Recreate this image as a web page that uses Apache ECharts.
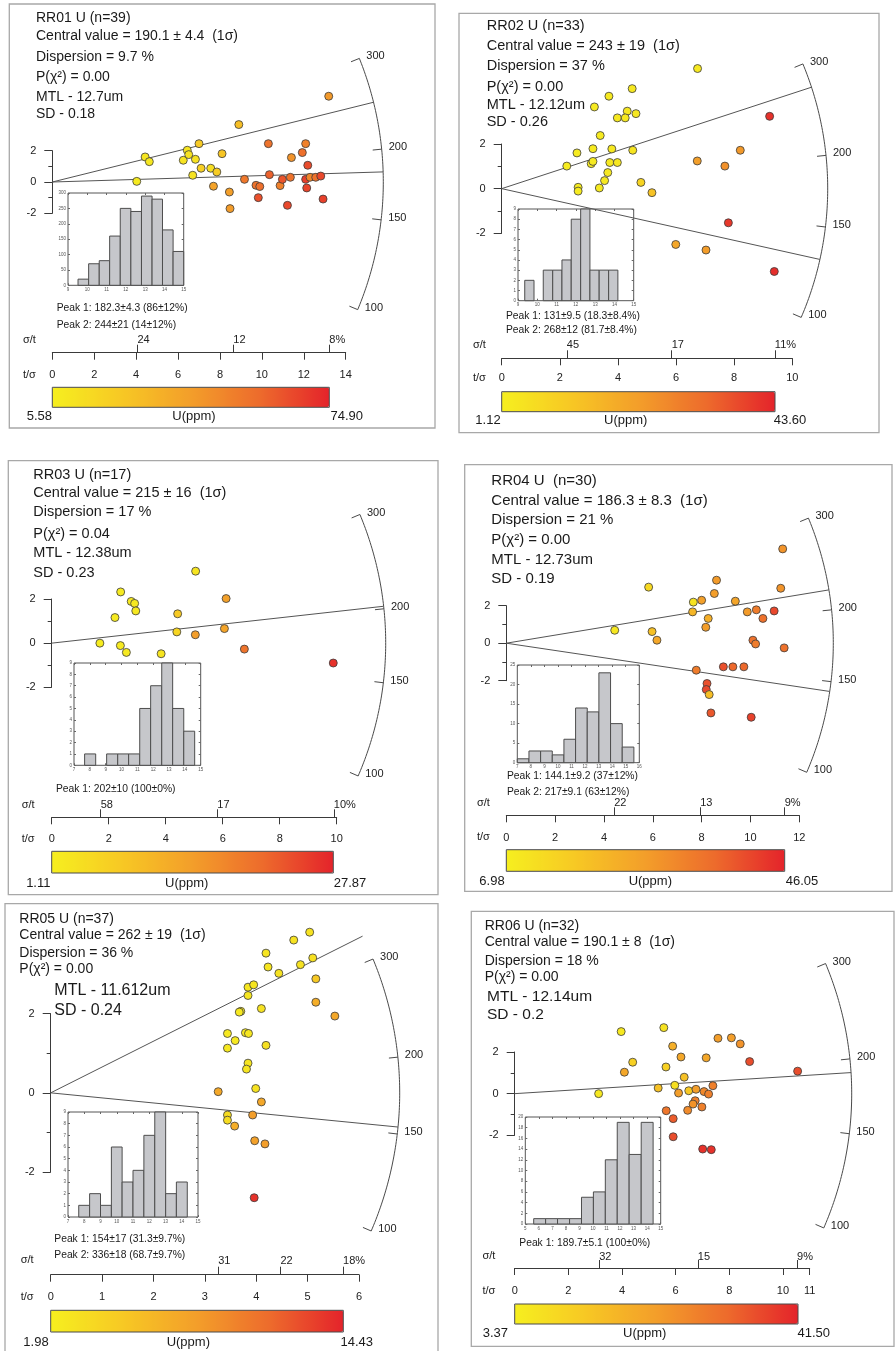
<!DOCTYPE html>
<html>
<head>
<meta charset="utf-8">
<script src="https://cdn.jsdelivr.net/npm/echarts@6/dist/echarts.min.js"></script>
<style>
  html, body { margin: 0; padding: 0; background: #fff; }
  #chart { width: 895px; height: 1351px; }
</style>
</head>
<body>
<div id="chart"></div>
<script>
const FONT = '"Liberation Sans", Arial, Helvetica, sans-serif';
const TREF = 175;                       // age (Ma) along the horizontal through the origin
const ARC_TICKS = [100, 150, 200, 300]; // age scale on the arc
const U_COLORS = ['#f6ef1f', '#f7c824', '#f39e2a', '#ed6b2c', '#e4232b'];

// ---------------- RR01 ----------------
// grains: [t/σ (precision), standardised estimate, U ppm]
const rr01Grains = [
  [4.03, 0.04, 8.0], [4.43, 1.60, 9.5], [4.63, 1.30, 9.0], [6.25, 1.39, 11.0], [6.44, 2.03, 10.5],
  [6.51, 1.75, 11.5], [7.00, 2.45, 22.0], [6.83, 1.45, 12.0], [6.70, 0.43, 11.0], [7.10, 0.88, 20.0],
  [7.56, 0.88, 13.0], [7.85, 0.64, 21.0], [8.10, 1.81, 24.0], [8.90, 3.67, 27.0], [7.69, -0.27, 38.0],
  [8.45, -0.64, 40.0], [8.48, -1.70, 41.0], [9.17, 0.17, 53.0], [9.72, -0.21, 55.0], [9.90, -0.29, 56.0],
  [9.83, -1.00, 64.0], [10.31, 2.45, 55.0], [10.36, 0.47, 60.0], [10.87, -0.23, 50.0], [10.98, 0.17, 63.0],
  [11.22, -1.49, 66.0], [11.36, 0.30, 55.0], [11.41, 1.56, 44.0], [11.93, 1.88, 56.0], [12.09, 2.45, 50.0],
  [12.19, 1.07, 65.0], [12.09, 0.17, 68.0], [12.14, -0.38, 67.0], [12.30, 0.30, 48.0], [12.57, 0.30, 55.0],
  [12.81, 0.38, 66.0], [12.92, -1.09, 68.0], [13.19, 5.48, 42.0]
];
const rr01Peaks = [182.3, 244];
const rr01TTicks = [0, 2, 4, 6, 8, 10, 12, 14];
const rr01ErrPos = [4.06, 8.64, 13.22];
const rr01ErrLabels = ['24', '12', '8%'];
const rr01Stats = ['RR01 U (n=39)', 'Central value = 190.1 ± 4.4  (1σ)', 'Dispersion = 9.7 %', 'P(χ²) = 0.00', 'MTL - 12.7um', 'SD - 0.18'];
const rr01PeakText = ['Peak 1: 182.3±4.3 (86±12%)', 'Peak 2: 244±21 (14±12%)'];
const rr01URange = [5.58, 74.90];
const rr01LenEdges = [9.52, 10.07, 10.62, 11.16, 11.71, 12.26, 12.81, 13.36, 13.90, 14.45, 15.0];
const rr01LenCounts = [20, 70, 80, 160, 250, 240, 290, 280, 180, 110];
const rr01LenX = [9, 15, 1];
const rr01LenY = [0, 300, 50];

// ---------------- RR02 ----------------
const rr02Grains = [
  [6.74, 5.38, 3.0], [4.49, 4.48, 3.0], [3.69, 4.14, 2.8], [3.19, 3.66, 2.5], [4.32, 3.47, 3.2],
  [3.98, 3.17, 3.0], [4.25, 3.17, 3.0], [4.62, 3.36, 3.4], [3.39, 2.38, 2.6], [2.59, 1.60, 2.2],
  [3.14, 1.79, 2.6], [3.79, 1.78, 3.0], [4.51, 1.72, 4.0], [2.24, 1.01, 2.0], [3.08, 1.12, 2.5],
  [3.14, 1.22, 2.5], [3.72, 1.17, 3.0], [3.98, 1.17, 3.2], [3.65, 0.72, 3.0], [3.54, 0.36, 3.0],
  [2.63, 0.06, 2.2], [2.63, -0.11, 2.2], [3.36, 0.03, 2.6], [4.79, 0.28, 8.5], [5.17, -0.18, 13.0],
  [6.73, 1.24, 22.0], [7.68, 1.01, 25.0], [8.21, 1.72, 23.5], [9.22, 3.24, 41.5], [7.80, -1.53, 40.5],
  [5.99, -2.50, 20.0], [7.03, -2.75, 22.5], [9.38, -3.71, 42.0]
];
const rr02Peaks = [131, 268];
const rr02TTicks = [0, 2, 4, 6, 8, 10];
const rr02ErrPos = [2.24, 5.85, 9.40];
const rr02ErrLabels = ['45', '17', '11%'];
const rr02Stats = ['RR02 U (n=33)', 'Central value = 243 ± 19  (1σ)', 'Dispersion = 37 %', 'P(χ²) = 0.00', 'MTL - 12.12um', 'SD - 0.26'];
const rr02PeakText = ['Peak 1: 131±9.5 (18.3±8.4%)', 'Peak 2: 268±12 (81.7±8.4%)'];
const rr02URange = [1.12, 43.60];
const rr02LenEdges = [9.35, 9.83, 10.31, 10.80, 11.28, 11.76, 12.25, 12.73, 13.21, 13.70, 14.18];
const rr02LenCounts = [2, 0, 3, 3, 4, 8, 9, 3, 3, 3];
const rr02LenX = [9, 15, 1];
const rr02LenY = [0, 9, 1];

// ---------------- RR03 ----------------
const rr03Grains = [
  [5.05, 3.26, 3.0], [2.42, 2.32, 2.0], [2.79, 1.89, 2.2], [2.91, 1.80, 2.3], [2.95, 1.46, 2.3],
  [2.22, 1.16, 2.0], [4.42, 1.33, 7.5], [6.12, 2.02, 14.0], [4.39, 0.51, 5.5], [5.04, 0.38, 14.5],
  [6.06, 0.66, 13.5], [1.69, 0.00, 1.6], [2.41, -0.11, 2.0], [2.62, -0.42, 2.2], [3.84, -0.48, 3.0],
  [6.76, -0.27, 20.0], [9.88, -0.90, 26.5]
];
const rr03Peaks = [202];
const rr03TTicks = [0, 2, 4, 6, 8, 10];
const rr03ErrPos = [1.72, 5.81, 9.90];
const rr03ErrLabels = ['58', '17', '10%'];
const rr03Stats = ['RR03 U (n=17)', 'Central value = 215 ± 16  (1σ)', 'Dispersion = 17 %', 'P(χ²) = 0.04', 'MTL - 12.38um', 'SD - 0.23'];
const rr03PeakText = ['Peak 1: 202±10 (100±0%)'];
const rr03URange = [1.11, 27.87];
const rr03LenEdges = [7.67, 8.37, 9.06, 9.76, 10.45, 11.15, 11.84, 12.54, 13.23, 13.93, 14.62];
const rr03LenCounts = [1, 0, 1, 1, 1, 5, 7, 9, 5, 3];
const rr03LenX = [7, 15, 1];
const rr03LenY = [0, 9, 1];

// ---------------- RR04 ----------------
const rr04Grains = [
  [4.44, 0.69, 9.0], [5.83, 2.99, 12.5], [5.97, 0.62, 18.5], [6.17, 0.16, 24.5], [7.66, 2.19, 10.0],
  [7.63, 1.67, 21.0], [8.00, 2.29, 26.0], [8.27, 1.32, 22.5], [8.17, 0.85, 26.5], [8.52, 2.65, 26.5],
  [8.61, 3.36, 27.0], [9.38, 2.24, 25.0], [9.87, 1.67, 27.0], [10.24, 1.78, 33.0], [10.51, 1.32, 35.0],
  [10.97, 1.72, 41.0], [11.24, 2.93, 28.5], [11.32, 5.03, 28.5], [10.10, 0.16, 35.0], [10.21, -0.04, 33.0],
  [11.38, -0.25, 35.0], [7.78, -1.44, 33.0], [8.89, -1.26, 40.0], [9.28, -1.26, 36.5], [9.73, -1.26, 36.5],
  [8.22, -2.15, 40.0], [8.19, -2.47, 41.0], [8.31, -2.74, 19.0], [8.38, -3.72, 39.0], [10.03, -3.95, 42.0]
];
const rr04Peaks = [144.1, 217];
const rr04TTicks = [0, 2, 4, 6, 8, 10, 12];
const rr04ErrPos = [4.42, 7.94, 11.40];
const rr04ErrLabels = ['22', '13', '9%'];
const rr04Stats = ['RR04 U  (n=30)', 'Central value = 186.3 ± 8.3  (1σ)', 'Dispersion = 21 %', 'P(χ²) = 0.00', 'MTL - 12.73um', 'SD - 0.19'];
const rr04PeakText = ['Peak 1: 144.1±9.2 (37±12%)', 'Peak 2: 217±9.1 (63±12%)'];
const rr04URange = [6.98, 46.05];
const rr04LenEdges = [7.0, 7.86, 8.72, 9.58, 10.44, 11.30, 12.16, 13.02, 13.88, 14.74, 15.6];
const rr04LenCounts = [1, 3, 3, 2, 6, 14, 13, 23, 10, 4];
const rr04LenX = [7, 16, 1];
const rr04LenY = [0, 25, 5];

// ---------------- RR05 ----------------
const rr05Grains = [
  [5.04, 4.06, 3.0], [4.73, 3.86, 3.0], [4.19, 3.53, 2.8], [5.10, 3.41, 3.2], [4.86, 3.24, 3.0],
  [4.23, 3.18, 2.8], [4.44, 3.02, 3.0], [5.16, 2.88, 5.0], [3.84, 2.67, 2.7], [3.95, 2.73, 2.8],
  [3.84, 2.46, 2.7], [5.16, 2.29, 7.0], [5.53, 1.94, 7.5], [3.70, 2.06, 2.5], [3.67, 2.04, 2.5],
  [4.10, 2.13, 3.0], [3.44, 1.50, 2.5], [3.79, 1.52, 2.7], [3.85, 1.50, 2.7], [3.59, 1.32, 2.5],
  [3.44, 1.13, 2.5], [4.19, 1.20, 3.2], [3.84, 0.75, 2.8], [3.81, 0.60, 2.8], [3.26, 0.03, 7.5],
  [3.99, 0.11, 3.0], [4.10, -0.23, 7.5], [3.93, -0.56, 8.2], [3.44, -0.56, 3.5], [3.44, -0.69, 3.5],
  [3.58, -0.84, 7.0], [3.97, -1.21, 8.0], [4.17, -1.29, 8.2], [3.96, -2.65, 13.8]
];
const rr05Peaks = [154, 336];
const rr05TTicks = [0, 1, 2, 3, 4, 5, 6];
const rr05ErrPos = [3.26, 4.47, 5.69];
const rr05ErrLabels = ['31', '22', '18%'];
const rr05Stats = ['RR05 U (n=37)', 'Central value = 262 ± 19  (1σ)', 'Dispersion = 36 %', 'P(χ²) = 0.00', 'MTL - 11.612um', 'SD - 0.24'];
const rr05PeakText = ['Peak 1: 154±17 (31.3±9.7%)', 'Peak 2: 336±18 (68.7±9.7%)'];
const rr05URange = [1.98, 14.43];
const rr05LenEdges = [7.66, 8.33, 9.00, 9.67, 10.33, 11.00, 11.67, 12.34, 13.01, 13.67, 14.34];
const rr05LenCounts = [1, 2, 1, 6, 3, 4, 7, 9, 2, 3];
const rr05LenX = [7, 15, 1];
const rr05LenY = [0, 9, 1];

// ---------------- RR06 ----------------
const rr06Grains = [
  [3.13, 0.00, 5.0], [3.97, 2.98, 5.0], [4.09, 1.03, 20.5], [4.40, 1.51, 11.0], [5.56, 3.17, 6.5],
  [5.89, 2.28, 18.5], [5.64, 1.28, 11.0], [6.20, 1.76, 20.5], [6.32, 0.79, 14.5], [5.35, 0.27, 14.5],
  [5.97, 0.40, 7.2], [6.11, 0.03, 22.5], [6.49, 0.14, 13.0], [6.76, 0.21, 22.5], [7.06, 0.10, 26.5],
  [7.23, -0.02, 28.0], [7.39, 0.38, 28.0], [7.14, 1.72, 20.5], [7.58, 2.66, 22.5], [8.08, 2.68, 22.5],
  [8.41, 2.39, 24.5], [8.76, 1.54, 36.0], [10.55, 1.08, 36.0], [6.73, -0.34, 28.0], [6.65, -0.50, 24.5],
  [6.98, -0.64, 28.0], [6.45, -0.80, 26.0], [5.65, -0.82, 30.0], [5.91, -1.20, 34.0], [5.91, -2.07, 36.0],
  [7.01, -2.66, 39.5], [7.33, -2.69, 39.5]
];
const rr06Peaks = [189.7];
const rr06TTicks = [0, 2, 4, 6, 8, 10, 11];
const rr06ErrPos = [3.15, 6.83, 10.53];
const rr06ErrLabels = ['32', '15', '9%'];
const rr06Stats = ['RR06 U (n=32)', 'Central value = 190.1 ± 8  (1σ)', 'Dispersion = 18 %', 'P(χ²) = 0.00', 'MTL - 12.14um', 'SD - 0.2'];
const rr06PeakText = ['Peak 1: 189.7±5.1 (100±0%)'];
const rr06URange = [3.37, 41.50];
const rr06LenEdges = [5.62, 6.50, 7.38, 8.27, 9.15, 10.03, 10.91, 11.79, 12.67, 13.56, 14.44];
const rr06LenCounts = [1, 1, 1, 1, 5, 6, 12, 19, 13, 19];
const rr06LenX = [5, 15, 1];
const rr06LenY = [0, 20, 2];

// ---------------- page layout of the six radial plots ----------------
const panels = [
  { grains: rr01Grains, peaks: rr01Peaks, tTicks: rr01TTicks, errPos: rr01ErrPos, errLabels: rr01ErrLabels,
    stats: rr01Stats, peakText: rr01PeakText, uRange: rr01URange, lenEdges: rr01LenEdges, lenCounts: rr01LenCounts,
    lenX: rr01LenX, lenY: rr01LenY,
    frame: [9.3, 4, 425.7, 424],
    statsPos: [[36, 18, 14], [36, 36, 14], [36, 57, 14], [36, 77, 14], [36, 97, 14], [36, 114, 14]],
    plot: { left: 52.3, top: 150.7, width: 293.4, height: 62.6, axisY: 352.7, tMargin: 16.5, eMargin: 7 },
    arcR: 331,
    hist: { left: 68, top: 193, width: 115.7, height: 92.3 },
    peakPos: [56.7, [308.3, 325]],
    nameX: 23, nameY: [340, 375],
    bar: { x: 52.3, y: 387.3, w: 277, h: 20 }, barLabelY: 416.7, barLabelX: [39.3, 194, 346.7] },
  { grains: rr02Grains, peaks: rr02Peaks, tTicks: rr02TTicks, errPos: rr02ErrPos, errLabels: rr02ErrLabels,
    stats: rr02Stats, peakText: rr02PeakText, uRange: rr02URange, lenEdges: rr02LenEdges, lenCounts: rr02LenCounts,
    lenX: rr02LenX, lenY: rr02LenY,
    frame: [459, 13.3, 420, 419.4],
    statsPos: [[486.7, 26, 14.5], [486.7, 45.7, 14.5], [486.7, 66, 14.5], [486.7, 87.3, 14.5], [486.7, 105, 14.5], [486.7, 121.7, 14.5]],
    plot: { left: 501.7, top: 144, width: 290.6, height: 89.3, axisY: 358.3, tMargin: 14, eMargin: 7.5 },
    arcR: 326,
    hist: { left: 518, top: 209, width: 115.7, height: 91.7 },
    peakPos: [506, [316, 330]],
    nameX: 473, nameY: [345, 378],
    bar: { x: 501.7, y: 391.7, w: 273.3, h: 20 }, barLabelY: 420.7, barLabelX: [488, 625.7, 790] },
  { grains: rr03Grains, peaks: rr03Peaks, tTicks: rr03TTicks, errPos: rr03ErrPos, errLabels: rr03ErrLabels,
    stats: rr03Stats, peakText: rr03PeakText, uRange: rr03URange, lenEdges: rr03LenEdges, lenCounts: rr03LenCounts,
    lenX: rr03LenX, lenY: rr03LenY,
    frame: [8.3, 460.7, 429.7, 434],
    statsPos: [[33.3, 474.7, 14.5], [33.3, 493, 14.5], [33.3, 512.3, 14.5], [33.3, 534, 14.5], [33.3, 553, 14.5], [33.3, 573, 14.5]],
    plot: { left: 51.7, top: 599, width: 285, height: 88.3, axisY: 817.3, tMargin: 16.5, eMargin: 7 },
    arcR: 334,
    hist: { left: 74, top: 663, width: 126.7, height: 102.3 },
    peakPos: [56, [788.7]],
    nameX: 21.7, nameY: [804.7, 839],
    bar: { x: 51.7, y: 851.3, w: 281.6, h: 21.7 }, barLabelY: 883.7, barLabelX: [38.3, 186.7, 350] },
  { grains: rr04Grains, peaks: rr04Peaks, tTicks: rr04TTicks, errPos: rr04ErrPos, errLabels: rr04ErrLabels,
    stats: rr04Stats, peakText: rr04PeakText, uRange: rr04URange, lenEdges: rr04LenEdges, lenCounts: rr04LenCounts,
    lenX: rr04LenX, lenY: rr04LenY,
    frame: [464.7, 464.7, 427.3, 426.6],
    statsPos: [[491.3, 480.7, 15], [491.3, 500.7, 15], [491.3, 519.7, 15], [491.3, 539.7, 15], [491.3, 559.7, 15], [491.3, 578.7, 15]],
    plot: { left: 506.3, top: 605.7, width: 293, height: 75, axisY: 815.3, tMargin: 17, eMargin: 7 },
    arcR: 327,
    hist: { left: 517.3, top: 665, width: 122, height: 97.7 },
    peakPos: [507, [776.3, 792]],
    nameX: 477, nameY: [803, 837.3],
    bar: { x: 506.3, y: 849.7, w: 278.4, h: 21.6 }, barLabelY: 881.3, barLabelX: [492, 650.3, 802] },
  { grains: rr05Grains, peaks: rr05Peaks, tTicks: rr05TTicks, errPos: rr05ErrPos, errLabels: rr05ErrLabels,
    stats: rr05Stats, peakText: rr05PeakText, uRange: rr05URange, lenEdges: rr05LenEdges, lenCounts: rr05LenCounts,
    lenX: rr05LenX, lenY: rr05LenY,
    frame: [5, 903.7, 433, 460],
    statsPos: [[19.3, 918.7, 14], [19.3, 934.7, 14], [19.3, 952.7, 14], [19.3, 969.3, 14], [54.3, 990.3, 16], [54.3, 1010.3, 16]],
    plot: { left: 50.7, top: 1013.7, width: 308.3, height: 158.3, axisY: 1274.7, tMargin: 17, eMargin: 8.5 },
    arcR: 349,
    hist: { left: 68, top: 1112, width: 130, height: 105 },
    peakPos: [54.3, [1238.7, 1254.7]],
    nameX: 20.7, nameY: [1260.3, 1297],
    bar: { x: 50.7, y: 1310.3, w: 292.6, h: 21.7 }, barLabelY: 1342, barLabelX: [36, 188.3, 356.7] },
  { grains: rr06Grains, peaks: rr06Peaks, tTicks: rr06TTicks, errPos: rr06ErrPos, errLabels: rr06ErrLabels,
    stats: rr06Stats, peakText: rr06PeakText, uRange: rr06URange, lenEdges: rr06LenEdges, lenCounts: rr06LenCounts,
    lenX: rr06LenX, lenY: rr06LenY,
    frame: [471.3, 911.3, 422.7, 435],
    statsPos: [[484.7, 926.3, 14], [484.7, 942, 14], [484.7, 960.7, 14], [484.7, 977.3, 14], [487, 996.3, 15.5], [487, 1014.7, 15.5]],
    plot: { left: 514.7, top: 1052, width: 295, height: 83.3, axisY: 1268, tMargin: 17.5, eMargin: 6 },
    arcR: 337,
    hist: { left: 525.3, top: 1117, width: 135.4, height: 107 },
    peakPos: [519.3, [1243]],
    nameX: 482.5, nameY: [1256.3, 1290.7],
    bar: { x: 514.7, y: 1304, w: 283.3, h: 20 }, barLabelY: 1333, barLabelX: [495.3, 644.7, 813.7] }
];

const option = {
  animation: false,
  backgroundColor: '#ffffff',
  textStyle: { fontFamily: FONT },
  grid: [], xAxis: [], yAxis: [], series: [], visualMap: [], graphic: []
};

function txt(text, x, y, size, align) {
  return { type: 'text', x: x, y: y, z: 100,
    style: { text: text, font: size + 'px ' + FONT, fill: '#1a1a1a', align: align || 'left', verticalAlign: 'middle' } };
}

// radial lines for the peak ages, plus the curved age scale
function radialRenderer(p) {
  return function (params, api) {
    const o = api.coord([0, 0]);
    const s = api.size([1, 1]);
    const k = s[1] / s[0];
    const R = p.arcR;
    const ang = t => Math.atan(k * Math.log(t / TREF));
    const at = (th, r) => [o[0] + r * Math.cos(th), o[1] - r * Math.sin(th)];
    const a0 = ang(ARC_TICKS[0]);
    const a1 = ang(ARC_TICKS[ARC_TICKS.length - 1]);
    const arc = [];
    for (let i = 0; i <= 90; i++) arc.push(at(a0 + (a1 - a0) * i / 90, R));
    const children = [{ type: 'polyline', shape: { points: arc }, style: { stroke: '#4a4a4a', lineWidth: 1, fill: null } }];
    ARC_TICKS.forEach(t => {
      const th = ang(t);
      const q1 = at(th, R - 9), q2 = at(th, R);
      children.push({ type: 'line', shape: { x1: q1[0], y1: q1[1], x2: q2[0], y2: q2[1] }, style: { stroke: '#4a4a4a', lineWidth: 1 } });
      children.push({ type: 'text', x: q2[0] + 7, y: q2[1] - 2,
        style: { text: String(t), font: '11px ' + FONT, fill: '#222', align: 'left', verticalAlign: 'middle' } });
    });
    p.peaks.forEach(t => {
      const e = at(ang(t), R);
      children.push({ type: 'line', shape: { x1: o[0], y1: o[1], x2: e[0], y2: e[1] }, style: { stroke: '#555', lineWidth: 1 } });
    });
    return { type: 'group', children: children };
  };
}

function histRenderer(params, api) {
  if (!api.value(2)) return null;
  const a = api.coord([api.value(0), api.value(2)]);
  const b = api.coord([api.value(1), 0]);
  return { type: 'rect', shape: { x: a[0], y: a[1], width: b[0] - a[0], height: b[1] - a[1] },
    style: { fill: '#c6c7cb', stroke: '#4d4d4d', lineWidth: 1 } };
}

panels.forEach(p => {
  const L = p.plot;
  // ---- radial plot grid ----
  const g = option.grid.length;
  option.grid.push({ left: L.left, top: L.top, width: L.width, height: L.height, show: false, outerBoundsMode: 'none', containLabel: false });
  const tMax = p.tTicks[p.tTicks.length - 1];
  const offset = L.axisY - (L.top + L.height);
  const xT = option.xAxis.length;
  option.xAxis.push({
    type: 'value', gridIndex: g, min: 0, max: tMax, position: 'bottom', offset: offset,
    axisLine: { show: true, onZero: false, lineStyle: { color: '#3a3a3a', width: 1 } },
    axisTick: { show: true, length: 7, inside: false, customValues: p.tTicks, lineStyle: { color: '#3a3a3a' } },
    axisLabel: { show: true, customValues: p.tTicks, margin: L.tMargin, fontSize: 11, color: '#222', fontFamily: FONT },
    splitLine: { show: false }
  });
  const errLookup = p.errPos.map((v, i) => [v, p.errLabels[i]]);
  option.xAxis.push({
    type: 'value', gridIndex: g, min: 0, max: tMax, position: 'bottom', offset: offset,
    axisLine: { show: false, onZero: false },
    axisTick: { show: true, inside: true, length: 8, customValues: p.errPos, lineStyle: { color: '#3a3a3a' } },
    axisLabel: { show: true, inside: true, customValues: p.errPos, margin: L.eMargin, align: 'left', fontSize: 11, color: '#222', fontFamily: FONT,
      formatter: v => { let best = errLookup[0]; errLookup.forEach(e => { if (Math.abs(e[0] - v) < Math.abs(best[0] - v)) best = e; }); return best[1]; } },
    splitLine: { show: false }
  });
  const yZ = option.yAxis.length;
  option.yAxis.push({
    type: 'value', gridIndex: g, min: -2, max: 2, interval: 2, position: 'left',
    axisLine: { show: true, onZero: false, lineStyle: { color: '#3a3a3a', width: 1 } },
    axisTick: { show: true, length: 8, lineStyle: { color: '#3a3a3a' } },
    minorTick: { show: true, splitNumber: 2, length: 4, lineStyle: { color: '#3a3a3a' } },
    axisLabel: { show: true, margin: 16, fontSize: 11, color: '#222', fontFamily: FONT },
    splitLine: { show: false }, minorSplitLine: { show: false }
  });

  // ---- track length histogram inset ----
  const H = p.hist;
  const hg = option.grid.length;
  option.grid.push({ left: H.left, top: H.top, width: H.width, height: H.height, show: true, backgroundColor: '#ffffff',
    borderColor: '#555', borderWidth: 1, outerBoundsMode: 'none', containLabel: false });
  const hx = option.xAxis.length;
  const smallLabel = { fontSize: 4.5, color: '#555', fontFamily: FONT, margin: 2 };
  option.xAxis.push({ type: 'value', gridIndex: hg, min: p.lenX[0], max: p.lenX[1], interval: p.lenX[2], position: 'bottom',
    axisLine: { show: false, onZero: false }, axisTick: { show: true, inside: true, length: 2, lineStyle: { color: '#666' } },
    axisLabel: smallLabel, splitLine: { show: false } });
  option.xAxis.push({ type: 'value', gridIndex: hg, min: p.lenX[0], max: p.lenX[1], interval: p.lenX[2], position: 'top',
    axisLine: { show: false, onZero: false }, axisTick: { show: true, inside: true, length: 2, lineStyle: { color: '#666' } },
    axisLabel: { show: false }, splitLine: { show: false } });
  const hy = option.yAxis.length;
  option.yAxis.push({ type: 'value', gridIndex: hg, min: p.lenY[0], max: p.lenY[1], interval: p.lenY[2], position: 'left',
    axisLine: { show: false, onZero: false }, axisTick: { show: true, inside: true, length: 2, lineStyle: { color: '#666' } },
    axisLabel: smallLabel, splitLine: { show: false } });
  option.yAxis.push({ type: 'value', gridIndex: hg, min: p.lenY[0], max: p.lenY[1], interval: p.lenY[2], position: 'right',
    axisLine: { show: false, onZero: false }, axisTick: { show: true, inside: true, length: 2, lineStyle: { color: '#666' } },
    axisLabel: { show: false }, splitLine: { show: false } });
  option.series.push({ type: 'custom', xAxisIndex: hx, yAxisIndex: hy, silent: true, z: 2,
    data: p.lenCounts.map((c, i) => [p.lenEdges[i], p.lenEdges[i + 1], c]),
    encode: { x: [0, 1], y: 2 }, renderItem: histRenderer });

  // ---- age lines and arc ----
  option.series.push({ type: 'custom', xAxisIndex: xT, yAxisIndex: yZ, silent: true, clip: false, z: 4,
    data: [[0, 0]], renderItem: radialRenderer(p) });

  // ---- single grain points coloured by uranium ----
  const si = option.series.length;
  option.series.push({ type: 'scatter', xAxisIndex: xT, yAxisIndex: yZ, data: p.grains, symbol: 'circle', symbolSize: 8,
    clip: false, silent: true, z: 6, itemStyle: { borderColor: '#3b3b3b', borderWidth: 0.8, opacity: 1 } });
  const B = p.bar;
  option.visualMap.push({ type: 'continuous', seriesIndex: si, dimension: 2, min: p.uRange[0], max: p.uRange[1],
    orient: 'horizontal', left: B.x, top: B.y, itemWidth: B.h, itemHeight: B.w, padding: 0,
    calculable: false, hoverLink: false, realtime: false, inRange: { color: U_COLORS } });
  option.graphic.push({ type: 'rect', z: 100, shape: { x: B.x, y: B.y, width: B.w, height: B.h },
    style: { fill: null, stroke: '#4a4a4a', lineWidth: 1 } });
  option.graphic.push(txt(p.uRange[0].toFixed(2), p.barLabelX[0], p.barLabelY, 13, 'center'));
  option.graphic.push(txt('U(ppm)', p.barLabelX[1], p.barLabelY, 13, 'center'));
  option.graphic.push(txt(p.uRange[1].toFixed(2), p.barLabelX[2], p.barLabelY, 13, 'center'));

  // ---- frame and annotations ----
  option.graphic.push({ type: 'rect', z: 1, shape: { x: p.frame[0], y: p.frame[1], width: p.frame[2], height: p.frame[3] },
    style: { fill: null, stroke: '#a8a8a8', lineWidth: 1.3 } });
  p.stats.forEach((s, i) => { const q = p.statsPos[i]; option.graphic.push(txt(s, q[0], q[1], q[2])); });
  p.peakText.forEach((s, i) => option.graphic.push(txt(s, p.peakPos[0], p.peakPos[1][i], 10.3)));
  option.graphic.push(txt('σ/t', p.nameX, p.nameY[0], 11));
  option.graphic.push(txt('t/σ', p.nameX, p.nameY[1], 11));
});

const chart = echarts.init(document.getElementById('chart'), null, { renderer: 'canvas' });
chart.setOption(option);
</script>
</body>
</html>
